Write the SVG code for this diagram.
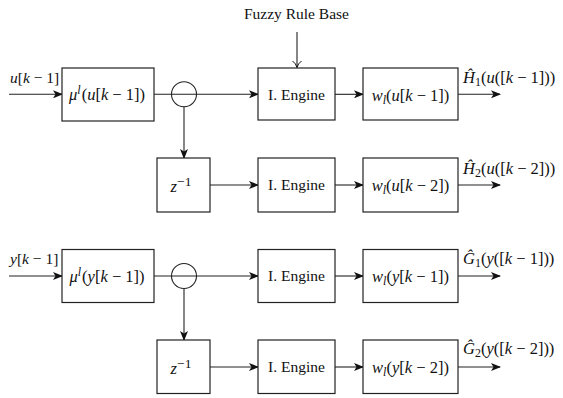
<svg xmlns="http://www.w3.org/2000/svg" width="563" height="398" viewBox="0 0 563 398">
<defs>
<style>
.box{fill:#fff;stroke:#222;stroke-width:1.2}
.ln{fill:none;stroke:#222;stroke-width:1.1}
.ar{marker-end:url(#stealth)}
text{font-family:"Liberation Serif","Times New Roman",serif;font-size:15.5px;fill:#111}
.mt{font-size:16.5px}
.m{text-anchor:middle}
.i{font-style:italic}
.s{font-size:12px}
.sz{font-size:13.5px}
</style>
<marker id="stealth" viewBox="0 0 10 8" refX="9" refY="4" markerWidth="10" markerHeight="8" markerUnits="userSpaceOnUse" orient="auto">
<path d="M0,0 L10,4 L0,8 L2.5,4 Z" fill="#111"/>
</marker>
<marker id="open" viewBox="0 0 8 10" refX="7" refY="5" markerWidth="8" markerHeight="10" markerUnits="userSpaceOnUse" orient="auto">
<path d="M0.5,0.5 Q3,4 7,5 Q3,6 0.5,9.5" fill="none" stroke="#111" stroke-width="1"/>
</marker>
</defs>

<text id="fuzzy" class="m" x="296.5" y="19">Fuzzy Rule Base</text>

<g id="connectors">
<line class="ln" x1="297" y1="32" x2="297" y2="67.5" marker-end="url(#open)"/>
<line class="ln ar" x1="9" y1="94.3" x2="62" y2="94.3"/>
<line class="ln ar" x1="154" y1="94.3" x2="258" y2="94.3"/>
<line class="ln ar" x1="184" y1="106.8" x2="184" y2="158"/>
<line class="ln ar" x1="335" y1="94.3" x2="363" y2="94.3"/>
<line class="ln ar" x1="458" y1="94.3" x2="500" y2="94.3"/>
<line class="ln ar" x1="210" y1="185" x2="258" y2="185"/>
<line class="ln ar" x1="335" y1="185" x2="363" y2="185"/>
<line class="ln ar" x1="458" y1="185" x2="500" y2="185"/>
<line class="ln ar" x1="9" y1="276" x2="62" y2="276"/>
<line class="ln ar" x1="154" y1="276" x2="258" y2="276"/>
<line class="ln ar" x1="184" y1="288.5" x2="184" y2="340"/>
<line class="ln ar" x1="335" y1="276" x2="363" y2="276"/>
<line class="ln ar" x1="458" y1="276" x2="500" y2="276"/>
<line class="ln ar" x1="210" y1="367" x2="258" y2="367"/>
<line class="ln ar" x1="335" y1="367" x2="363" y2="367"/>
<line class="ln ar" x1="458" y1="367" x2="500" y2="367"/>
</g>

<g id="labels">
<text x="10" y="83"><tspan class="i">u</tspan>[<tspan class="i">k</tspan> − 1]</text>
<text class="mt" x="463" y="83"><tspan class="i">Ĥ</tspan><tspan class="s" dy="3">1</tspan><tspan dy="-3">(</tspan><tspan class="i">u</tspan>([<tspan class="i">k</tspan> − 1]))</text>
<text class="mt" x="463" y="174"><tspan class="i">Ĥ</tspan><tspan class="s" dy="3">2</tspan><tspan dy="-3">(</tspan><tspan class="i">u</tspan>([<tspan class="i">k</tspan> − 2]))</text>
<text x="10" y="264"><tspan class="i">y</tspan>[<tspan class="i">k</tspan> − 1]</text>
<text class="mt" x="463" y="264"><tspan class="i">Ĝ</tspan><tspan class="s" dy="3">1</tspan><tspan dy="-3">(</tspan><tspan class="i">y</tspan>([<tspan class="i">k</tspan> − 1]))</text>
<text class="mt" x="463" y="354"><tspan class="i">Ĝ</tspan><tspan class="s" dy="3">2</tspan><tspan dy="-3">(</tspan><tspan class="i">y</tspan>([<tspan class="i">k</tspan> − 2]))</text>
</g>

<g id="mu1"><rect class="box" x="62" y="68" width="92" height="53"/>
<text class="m mt" x="107" y="100"><tspan class="i">μ</tspan><tspan class="s i" dy="-6">l</tspan><tspan dx="1" dy="6">(</tspan><tspan class="i">u</tspan>[<tspan class="i">k</tspan> − 1])</text></g>
<g id="split1"><circle class="ln" cx="184" cy="94.3" r="12.5"/></g>
<g id="ie1"><rect class="box" x="258" y="68" width="77" height="52"/>
<text class="m" x="296.5" y="99.5">I. Engine</text></g>
<g id="w1"><rect class="box" x="363" y="68" width="95" height="52"/>
<text class="m mt" x="410.5" y="100.5"><tspan class="i">w</tspan><tspan class="s i" dy="3">l</tspan><tspan dy="-3">(</tspan><tspan class="i">u</tspan>[<tspan class="i">k</tspan> − 1])</text></g>

<g id="z1"><rect class="box" x="157" y="158" width="53" height="54"/>
<text class="m mt" x="181" y="192"><tspan class="i">z</tspan><tspan class="sz" dy="-6.5">−1</tspan></text></g>
<g id="ie2"><rect class="box" x="258" y="158" width="77" height="54"/>
<text class="m" x="296.5" y="190">I. Engine</text></g>
<g id="w2"><rect class="box" x="363" y="158" width="95" height="54"/>
<text class="m mt" x="410.5" y="191"><tspan class="i">w</tspan><tspan class="s i" dy="3">l</tspan><tspan dy="-3">(</tspan><tspan class="i">u</tspan>[<tspan class="i">k</tspan> − 2])</text></g>

<g id="mu2"><rect class="box" x="62" y="249.5" width="92" height="53"/>
<text class="m mt" x="107" y="281.5"><tspan class="i">μ</tspan><tspan class="s i" dy="-6">l</tspan><tspan dx="1" dy="6">(</tspan><tspan class="i">y</tspan>[<tspan class="i">k</tspan> − 1])</text></g>
<g id="split2"><circle class="ln" cx="184" cy="276" r="12.5"/></g>
<g id="ie3"><rect class="box" x="258" y="249.5" width="77" height="53"/>
<text class="m" x="296.5" y="281">I. Engine</text></g>
<g id="w3"><rect class="box" x="363" y="249.5" width="95" height="53"/>
<text class="m mt" x="410.5" y="282"><tspan class="i">w</tspan><tspan class="s i" dy="3">l</tspan><tspan dy="-3">(</tspan><tspan class="i">y</tspan>[<tspan class="i">k</tspan> − 1])</text></g>

<g id="z2"><rect class="box" x="157" y="340" width="53" height="53.5"/>
<text class="m mt" x="181" y="374"><tspan class="i">z</tspan><tspan class="sz" dy="-6.5">−1</tspan></text></g>
<g id="ie4"><rect class="box" x="258" y="340" width="77" height="53.5"/>
<text class="m" x="296.5" y="372">I. Engine</text></g>
<g id="w4"><rect class="box" x="363" y="340" width="95" height="53.5"/>
<text class="m mt" x="410.5" y="373"><tspan class="i">w</tspan><tspan class="s i" dy="3">l</tspan><tspan dy="-3">(</tspan><tspan class="i">y</tspan>[<tspan class="i">k</tspan> − 2])</text></g>
</svg>
